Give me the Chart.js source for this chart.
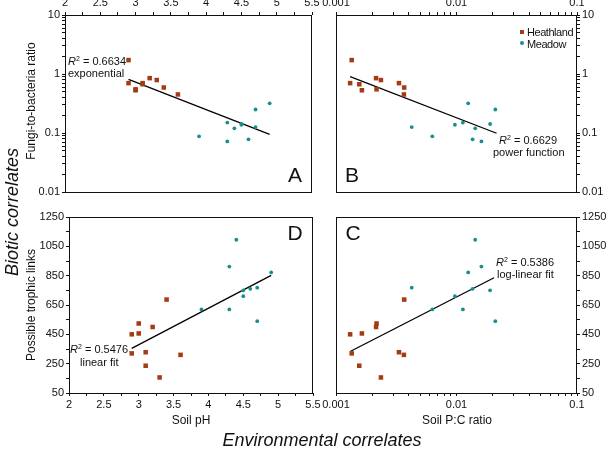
<!DOCTYPE html>
<html>
<head>
<meta charset="utf-8">
<script src="https://cdn.jsdelivr.net/npm/chart.js@4.4.1/dist/chart.umd.min.js"></script>
<style>
  body { margin: 0; background: #fff; }
  #fig { position: relative; width: 606px; height: 450px; font-family: "Liberation Sans", Arial, sans-serif; color: #111; }
  #fig canvas { position: absolute; left: 0; top: 0; }
  .t { position: absolute; white-space: nowrap; line-height: 1; }
  .c { transform: translate(-50%, -50%); }
  .l { transform: translateY(-50%); }
  .v { transform: translate(-50%, -50%) rotate(-90deg); }
  .note { font-size: 11px; }
  .note sup { font-size: 7px; line-height: 0; vertical-align: 4px; }
  .letter { font-size: 21px; }
  .big { font-size: 18px; font-style: italic; }
  .ax { font-size: 12px; }
  .key { font-size: 11px; letter-spacing: -0.45px; }
  .sq { position: absolute; width: 4px; height: 4px; background: #a33c12; }
  .dot { position: absolute; width: 4px; height: 4px; border-radius: 50%; background: #16908f; }
</style>
</head>
<body>
<div id="fig">
  <canvas id="pA" width="606" height="450"></canvas>
  <canvas id="pB" width="606" height="450"></canvas>
  <canvas id="pD" width="606" height="450"></canvas>
  <canvas id="pC" width="606" height="450"></canvas>

  <div class="t v big" style="left:12px;top:212px">Biotic correlates</div>
  <div class="t c big" style="left:322px;top:440px">Environmental correlates</div>
  <div class="t v ax" style="left:31px;top:101px">Fungi-to-bacteria ratio</div>
  <div class="t v ax" style="left:31px;top:305px">Possible trophic links</div>
  <div class="t c ax" style="left:191px;top:420px">Soil pH</div>
  <div class="t c ax" style="left:457px;top:420px">Soil P:C ratio</div>

  <div class="t c letter" style="left:295px;top:174px">A</div>
  <div class="t c letter" style="left:352px;top:174px">B</div>
  <div class="t c letter" style="left:295px;top:232px">D</div>
  <div class="t c letter" style="left:353px;top:232px">C</div>

  <div class="t l note" style="left:68px;top:61px"><i>R</i><sup>2</sup> = 0.6634</div>
  <div class="t l note" style="left:68px;top:73px">exponential</div>
  <div class="t l note" style="left:499px;top:140px"><i>R</i><sup>2</sup> = 0.6629</div>
  <div class="t l note" style="left:493px;top:152px">power function</div>
  <div class="t l note" style="left:70px;top:349px"><i>R</i><sup>2</sup> = 0.5476</div>
  <div class="t l note" style="left:80px;top:362px">linear fit</div>
  <div class="t l note" style="left:496px;top:262px"><i>R</i><sup>2</sup> = 0.5386</div>
  <div class="t l note" style="left:497px;top:274px">log-linear fit</div>

  <div class="sq" style="left:520px;top:30px"></div>
  <div class="t l key" style="left:527px;top:32px">Heathland</div>
  <div class="dot" style="left:520px;top:41px"></div>
  <div class="t l key" style="left:527px;top:43.5px">Meadow</div>
</div>

<script>
// heathland samples
const heathPH    = [2.9, 2.9, 3.0, 3.0, 3.1, 3.1, 3.2, 3.3, 3.4, 3.6];
const heathPC    = [0.00131, 0.00135, 0.00164, 0.00217, 0.00156, 0.00333, 0.00215, 0.00236, 0.00368, 0.00366];
const heathFB    = [0.70, 1.72, 0.53, 0.55, 0.67, 0.70, 0.85, 0.79, 0.59, 0.45];
const heathLinks = [450, 320, 456, 524, 236, 328, 500, 156, 687, 310];

// meadow samples
const meadPH    = [3.9, 4.3, 4.3, 4.4, 4.5, 4.5, 4.6, 4.7, 4.7, 4.9];
const meadPC    = [0.0063, 0.0113, 0.0161, 0.0143, 0.0097, 0.0190, 0.0136, 0.00425, 0.0210, 0.0125];
const meadFB    = [0.088, 0.150, 0.072, 0.120, 0.138, 0.142, 0.078, 0.126, 0.250, 0.318];
const meadLinks = [620, 620, 912, 1095, 710, 750, 760, 768, 540, 872];

// fitted lines (end points)
const fitA_x = [2.9, 4.9],       fitA_y = [0.81, 0.095];
const fitB_x = [0.00131, 0.0215], fitB_y = [0.90, 0.099];
const fitD_x = [2.9, 4.9],       fitD_y = [354, 852];
const fitC_x = [0.00131, 0.0205], fitC_y = [333, 836];

// tick labels
const phLabels    = [2, 2.5, 3, 3.5, 4, 4.5, 5, 5.5];
const pcLabels    = [0.001, 0.01, 0.1];
const fbLabels    = [0.01, 0.1, 1, 10];
const linksLabels = [50, 250, 450, 650, 850, 1050, 1250];

const HEATH = '#a33c12';
const MEAD = '#16908f';
const FONT = '"Liberation Sans", Arial, sans-serif';

function steps(from, to, step) {
	const out = [];
	for ( let v = from; v <= to + 1e-9; v += step ) out.push( Number( v.toFixed( 4 ) ) );
	return out;
}

function logSteps(fromExp, toExp) {
	const out = [];
	for ( let e = fromExp; e < toExp; e++ ) {
		for ( let m = 1; m < 10; m++ ) out.push( Number( ( m * Math.pow( 10, e ) ).toPrecision( 3 ) ) );
	}
	out.push( Math.pow( 10, toExp ) );
	return out;
}

const frame = {
	id: 'frame',
	afterDraw( chart ) {
		const { left, top, right, bottom } = chart.chartArea;
		const ctx = chart.ctx;
		ctx.save();
		ctx.strokeStyle = '#111';
		ctx.lineWidth = 1;
		ctx.strokeRect( Math.round( left ) + 0.5, Math.round( top ) + 0.5, Math.round( right - left ) - 1, Math.round( bottom - top ) );
		ctx.restore();
	}
};

function axis( pos, type, min, max, tickVals, labels, size ) {
	return {
		  type, position: pos, min, max
		, afterFit( s ) { if ( s.isHorizontal() ) s.height = size; else s.width = size; }
		, afterBuildTicks( s ) { s.ticks = tickVals.map( v => ( { value: v } ) ); }
		, ticks: {
			  autoSkip: false, maxRotation: 0, padding: 2, color: '#111'
			, font: { family: FONT, size: 11 }
			, callback: v => labels.some( l => Math.abs( l - v ) < 1e-9 * Math.max( 1, l ) ) ? String( v ) : ''
		}
		, grid: { drawOnChartArea: false, drawTicks: true, tickLength: 3, color: '#111', lineWidth: 1 }
		, border: { display: false }
	};
}

function pts( xs, ys, color, style, r ) {
	return {
		  data: xs.map( ( x, i ) => ( { x, y: ys[ i ] } ) )
		, backgroundColor: color, borderWidth: 0
		, pointStyle: style, pointRadius: r, pointHoverRadius: r
	};
}

function fit( xs, ys ) {
	return {
		  data: xs.map( ( x, i ) => ( { x, y: ys[ i ] } ) )
		, showLine: true, borderColor: '#000', borderWidth: 1.3
		, pointRadius: 0, pointHoverRadius: 0
	};
}

function panel( id, padding, xAxis, yAxis, datasets ) {
	new Chart( document.getElementById( id ), {
		  type: 'scatter'
		, data: { datasets }
		, options: {
			  responsive: false, animation: false
			, layout: { padding }
			, plugins: { legend: { display: false }, tooltip: { enabled: false } }
			, scales: { x: xAxis, y: yAxis }
		}
		, plugins: [ frame ]
	} );
}

const phTicks = steps( 2, 5.5, 0.25 );
const pcTicks = logSteps( -3, -1 );
const fbTicks = logSteps( -2, 1 );
const linkTicks = steps( 50, 1250, 100 );

panel( 'pA', { left: 25, top: 0, right: 294, bottom: 258 },
	axis( 'top', 'linear', 2, 5.5, phTicks, phLabels, 15 ),
	axis( 'left', 'logarithmic', 0.01, 10, fbTicks, fbLabels, 40 ),
	[ pts( heathPH, heathFB, HEATH, 'rect', 3.2 ), pts( meadPH, meadFB, MEAD, 'circle', 1.9 ), fit( fitA_x, fitA_y ) ] );

panel( 'pB', { left: 336, top: 0, right: 0, bottom: 258 },
	axis( 'top', 'logarithmic', 0.001, 0.1, pcTicks, pcLabels, 15 ),
	axis( 'right', 'logarithmic', 0.01, 10, fbTicks, fbLabels, 29 ),
	[ pts( heathPC, heathFB, HEATH, 'rect', 3.2 ), pts( meadPC, meadFB, MEAD, 'circle', 1.9 ), fit( fitB_x, fitB_y ) ] );

panel( 'pD', { left: 29, top: 217, right: 293, bottom: 37 },
	axis( 'bottom', 'linear', 2, 5.5, phTicks, phLabels, 20 ),
	axis( 'left', 'linear', 50, 1250, linkTicks, linksLabels, 40 ),
	[ pts( heathPH, heathLinks, HEATH, 'rect', 3.2 ), pts( meadPH, meadLinks, MEAD, 'circle', 1.9 ), fit( fitD_x, fitD_y ) ] );

panel( 'pC', { left: 336, top: 217, right: 0, bottom: 37 },
	axis( 'bottom', 'logarithmic', 0.001, 0.1, pcTicks, pcLabels, 20 ),
	axis( 'right', 'linear', 50, 1250, linkTicks, linksLabels, 29 ),
	[ pts( heathPC, heathLinks, HEATH, 'rect', 3.2 ), pts( meadPC, meadLinks, MEAD, 'circle', 1.9 ), fit( fitC_x, fitC_y ) ] );
</script>
</body>
</html>
